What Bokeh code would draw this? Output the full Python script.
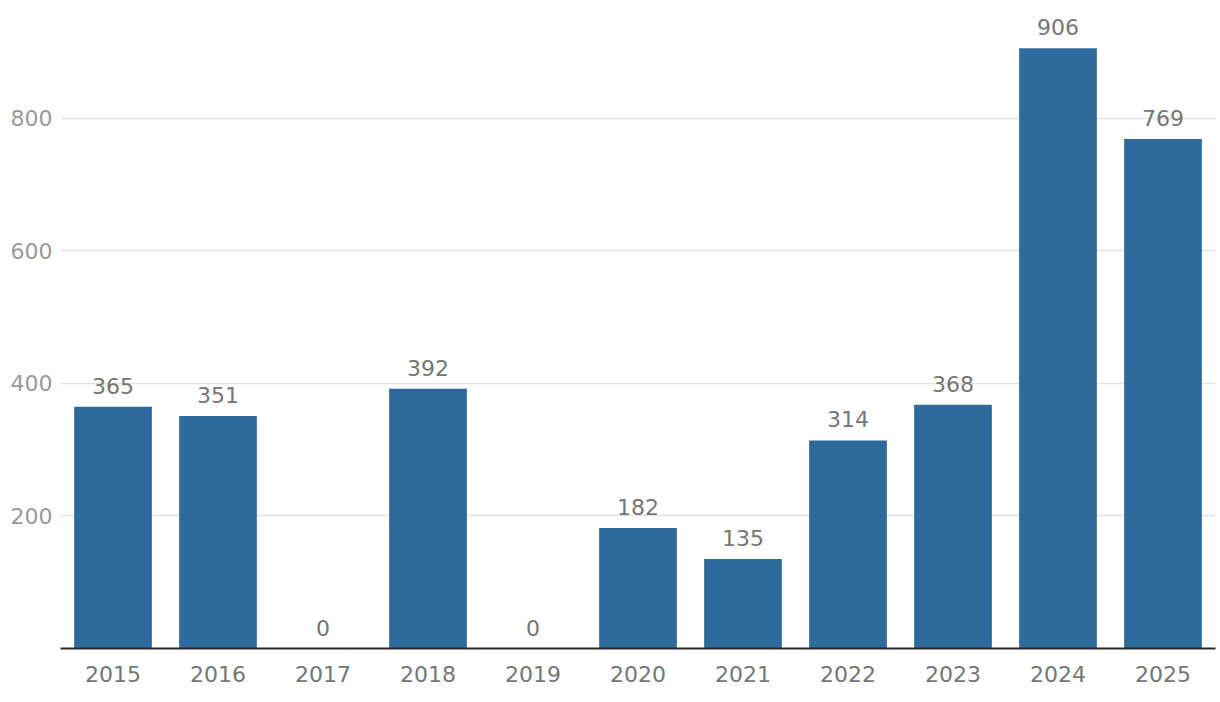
from bokeh.plotting import figure
from bokeh.models import ColumnDataSource, FactorRange, Range1d, FixedTicker
from bokeh.core.properties import value
from bokeh.embed import file_html
from bokeh.resources import INLINE

years = ["2015", "2016", "2017", "2018", "2019", "2020", "2021", "2022", "2023", "2024", "2025"]
counts = [365, 351, 0, 392, 0, 182, 135, 314, 368, 906, 769]
y_ticks = [200, 400, 600, 800]

FONT = "DejaVu Sans"
src = ColumnDataSource(dict(x=years, y=counts, lbl=[str(v) for v in counts]))

p = figure(x_range=FactorRange(*years, range_padding=0), y_range=Range1d(0, 966),
           width=1220, height=700, output_backend="svg", toolbar_location=None,
           min_border_left=60, min_border_right=5, min_border_top=8, min_border_bottom=52)
p.outline_line_color = None
p.background_fill_color = "white"
p.border_fill_color = "white"

p.vbar(x="x", top="y", width=0.74, source=src, color="#2e6b9c", line_color=None)
p.text(x="x", y="y", text="lbl", source=src, text_align="center", text_baseline="bottom",
       y_offset=-13, text_font=value(FONT), text_font_size="22px", text_color="#767676")

p.yaxis.ticker = FixedTicker(ticks=y_ticks)
p.yaxis.axis_line_color = None
p.yaxis.major_tick_line_color = None
p.yaxis.minor_tick_line_color = None
p.yaxis.major_label_text_font = FONT
p.yaxis.major_label_text_font_size = "22px"
p.yaxis.major_label_text_color = "#9a9a9a"
p.yaxis.major_label_standoff = 2

p.xaxis.axis_line_color = "#2b2b2b"
p.xaxis.axis_line_width = 2
p.xaxis.major_tick_line_color = None
p.xaxis.minor_tick_line_color = None
p.xaxis.major_label_text_font = FONT
p.xaxis.major_label_text_font_size = "22px"
p.xaxis.major_label_text_color = "#767676"
p.xaxis.major_label_standoff = 11

p.xgrid.grid_line_color = None
p.ygrid.ticker = FixedTicker(ticks=y_ticks)
p.ygrid.grid_line_color = "#e3e3e3"
p.ygrid.grid_line_width = 1.5

open("out.html", "w").write(file_html(p, INLINE))
